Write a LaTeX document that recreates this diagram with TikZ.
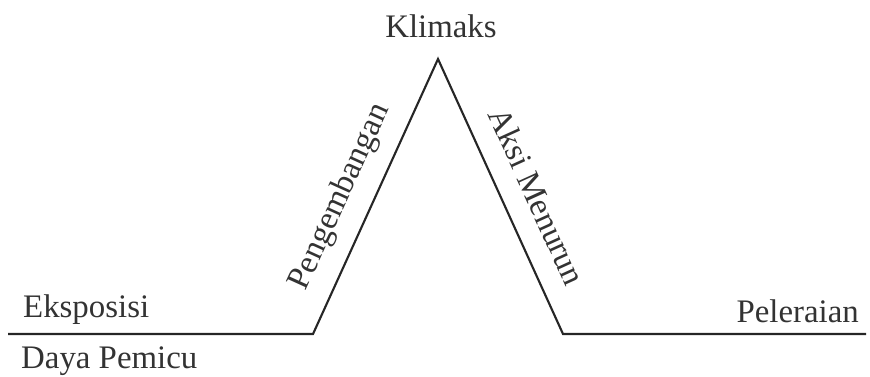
\documentclass[tikz,border=0pt]{standalone}
\usepackage{fontspec}
\setmainfont{Liberation Serif}
\begin{document}
\begin{tikzpicture}
		[	x=0.02cm,y=0.02cm,
		plot/.style={draw=black!85,line width=1.2pt,line join=miter},
		lbl/.style={draw=none,fill=none,text=black!80,font=\fontsize{18.7}{22}\selectfont}
		]
		\useasboundingbox (0,0) rectangle (870,376);
		\coordinate (start) at (8,42);
		\coordinate (rise) at (313,42);
		\coordinate (peak) at (438,317);
		\coordinate (fall) at (563,42);
		\coordinate (finish) at (866,42);

		\draw[plot] (start) -- (rise)
			-- node[lbl,sloped,pos=.45,above=2mm] (pengembangan) {Pengembangan} (peak)
			-- node[lbl,sloped,pos=.55,above=3mm] (aksi) {Aksi Menurun} (fall)
			-- (finish);

\node[lbl,anchor=base] (klimaks) at (441,338) {Klimaks};
\node[lbl,anchor=base west] (eksposisi) at (17,59) {Eksposisi};
\node[lbl,anchor=base west] (pemicu) at (15,8) {Daya Pemicu};
\node[lbl,anchor=base east] (peleraian) at (865,54) {Peleraian};
	\end{tikzpicture}
\end{document}
